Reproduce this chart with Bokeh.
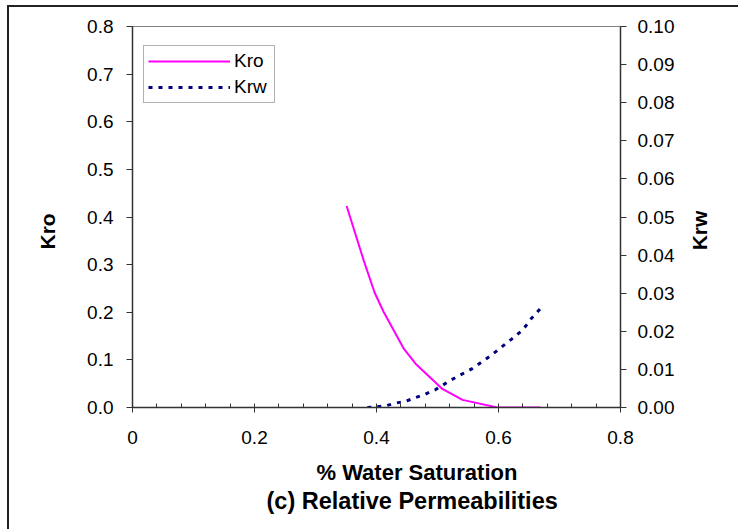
import math
from bokeh.plotting import figure
from bokeh.models import (Range1d, LinearAxis, FixedTicker, Legend, LegendItem, Title,
                          Label, InlineStyleSheet)
from bokeh.embed import file_html
from bokeh.resources import INLINE

# ---- data ----
sw_kro = [0.351, 0.379, 0.397, 0.412, 0.445, 0.464, 0.508, 0.541, 0.598, 0.669]
kro = [0.423, 0.309, 0.241, 0.200, 0.123, 0.092, 0.039, 0.016, 0.0, 0.0]

sw_krw = [0.385, 0.400, 0.416, 0.433, 0.449, 0.464, 0.480, 0.497, 0.523, 0.557,
          0.588, 0.621, 0.640, 0.653, 0.669]
krw = [0.0, 0.0002, 0.0005, 0.0012, 0.0017, 0.0026, 0.0035, 0.0047, 0.0073, 0.0102,
       0.0137, 0.0179, 0.0204, 0.0232, 0.0260]

x_ticks = [0.0, 0.2, 0.4, 0.6, 0.8]
x_tick_labels = ["0", "0.2", "0.4", "0.6", "0.8"]
x_minor_ticks = [0.04, 0.08, 0.12, 0.16, 0.24, 0.28, 0.32, 0.36, 0.44, 0.48, 0.52, 0.56,
                 0.64, 0.68, 0.72, 0.76]
kro_ticks = [0.0, 0.1, 0.2, 0.3, 0.4, 0.5, 0.6, 0.7, 0.8]
kro_tick_labels = ["0.0", "0.1", "0.2", "0.3", "0.4", "0.5", "0.6", "0.7", "0.8"]
krw_ticks = [0.0, 0.01, 0.02, 0.03, 0.04, 0.05, 0.06, 0.07, 0.08, 0.09, 0.10]
krw_tick_labels = ["0.00", "0.01", "0.02", "0.03", "0.04", "0.05", "0.06", "0.07",
                   "0.08", "0.09", "0.10"]

FONT = "Liberation Sans"
AXIS_COLOR = "#333333"

p = figure(width=738, height=529, output_backend="svg", toolbar_location=None,
           x_range=Range1d(0, 0.8), y_range=Range1d(0, 0.8),
           min_border_left=132, min_border_right=118, min_border_top=26,
           min_border_bottom=122, x_axis_location=None, y_axis_location=None)
p.extra_y_ranges = {"krw": Range1d(0, 0.1)}
p.xgrid.visible = False
p.ygrid.visible = False
p.outline_line_color = "#808080"
p.outline_line_width = 1
p.background_fill_color = "white"
p.border_fill_color = "white"

def style_axis(ax):
    ax.axis_line_color = AXIS_COLOR
    ax.axis_line_width = 1.5
    ax.major_tick_line_color = AXIS_COLOR
    ax.minor_tick_line_color = AXIS_COLOR
    ax.major_tick_line_width = 1
    ax.minor_tick_line_width = 1
    ax.major_label_text_font = FONT
    ax.major_label_text_font_size = "19px"
    ax.major_label_text_color = "black"

xaxis = LinearAxis(ticker=FixedTicker(ticks=x_ticks, minor_ticks=x_minor_ticks),
                   major_label_overrides=dict(zip(x_ticks, x_tick_labels)))
style_axis(xaxis)
xaxis.major_tick_in = 4
xaxis.major_tick_out = 5
xaxis.minor_tick_in = 4
xaxis.minor_tick_out = 0
xaxis.major_label_standoff = 18
p.add_layout(xaxis, "below")

yaxis = LinearAxis(ticker=FixedTicker(ticks=kro_ticks),
                   major_label_overrides=dict(zip(kro_ticks, kro_tick_labels)))
style_axis(yaxis)
yaxis.major_tick_in = 0
yaxis.major_tick_out = 6
yaxis.minor_tick_in = 0
yaxis.minor_tick_out = 0
yaxis.major_label_standoff = 13
p.add_layout(yaxis, "left")

y2axis = LinearAxis(y_range_name="krw", ticker=FixedTicker(ticks=krw_ticks),
                    major_label_overrides=dict(zip(krw_ticks, krw_tick_labels)))
style_axis(y2axis)
y2axis.major_tick_in = 0
y2axis.major_tick_out = 6
y2axis.minor_tick_in = 0
y2axis.minor_tick_out = 0
y2axis.major_label_standoff = 11
p.add_layout(y2axis, "right")

r_kro = p.line(sw_kro, kro, line_color="#FF00FF", line_width=2)
r_krw = p.line(sw_krw, krw, y_range_name="krw", line_color="#000080", line_width=3,
               line_dash="4 6")

legend = Legend(items=[LegendItem(label="Kro", renderers=[r_kro]),
                       LegendItem(label="Krw", renderers=[r_krw])],
                location=(11, 304), orientation="vertical",
                label_text_font=FONT, label_text_font_size="19px",
                label_text_color="black",
                glyph_width=82, glyph_height=20, label_height=20, label_width=36,
                label_standoff=4, padding=4, spacing=4, margin=0,
                border_line_color="#666666", border_line_width=1,
                background_fill_color="white", background_fill_alpha=1.0)
p.add_layout(legend, "center")

# axis titles and the two captions below
p.add_layout(Title(text="Kro", align="left", offset=158, standoff=52,
                   text_font=FONT, text_font_size="21px", text_font_style="bold",
                   text_color="black"), "left")
p.add_layout(Label(x=0.9303, y=0.3717, text="Krw", angle=math.pi / 2,
                   text_align="center", text_baseline="middle",
                   text_font=FONT, text_font_size="21px", text_font_style="bold",
                   text_color="black"), "right")
p.add_layout(Title(text="% Water Saturation", align="left", offset=184, standoff=26,
                   vertical_align="top",
                   text_font=FONT, text_font_size="22px", text_font_style="bold",
                   text_color="black"), "below")
p.add_layout(Title(text="(c) Relative Permeabilities", align="left", offset=134,
                   standoff=-24, vertical_align="top",
                   text_font=FONT, text_font_size="23.5px", text_font_style="bold",
                   text_color="black"), "below")

# outer chart-area border (only top and left edges are visible in the reference)
p.stylesheets = [InlineStyleSheet(css="""
:host::after {
  content: "";
  position: absolute;
  left: 7px; top: 5px;
  width: 760px; height: 560px;
  border-left: 2px solid #222222;
  border-top: 2px solid #222222;
  pointer-events: none;
  box-sizing: border-box;
}
""")]

open("out.html", "w").write(file_html(p, INLINE))
